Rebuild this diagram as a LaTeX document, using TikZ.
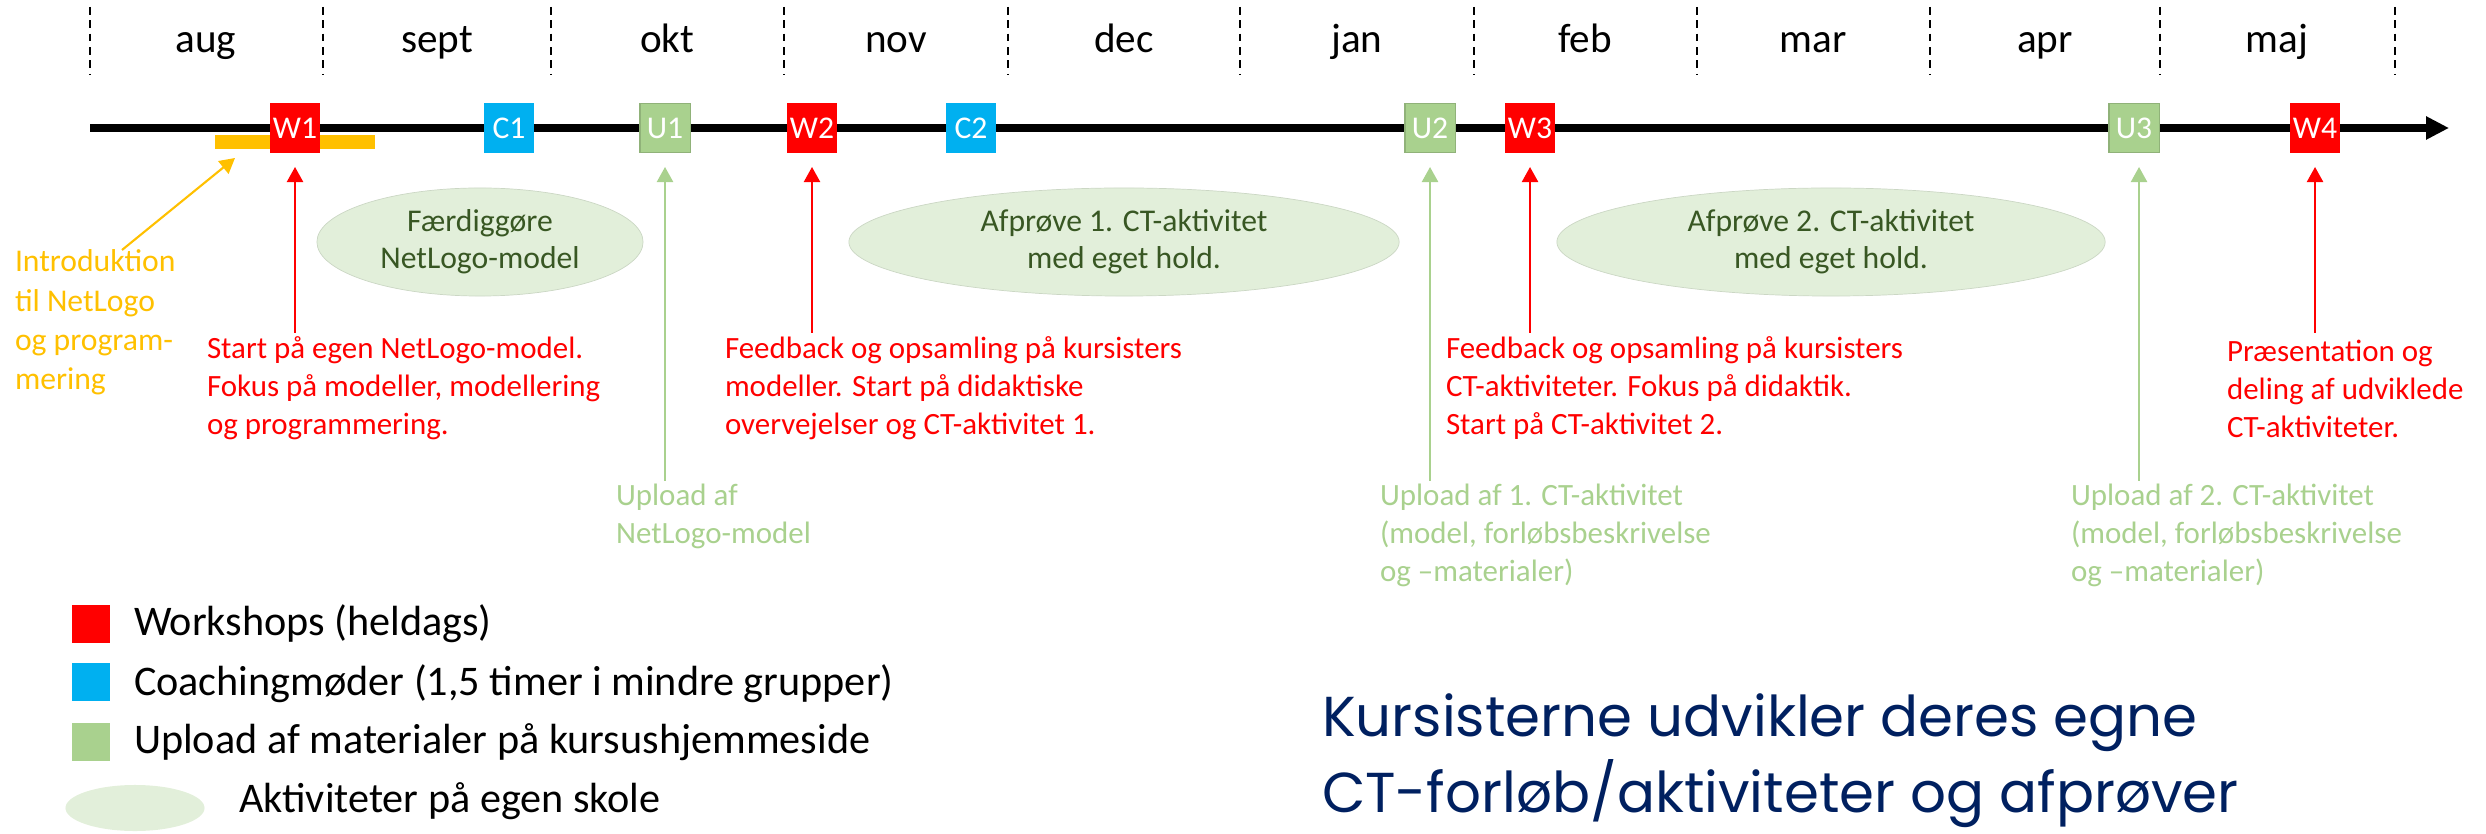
\documentclass[tikz,border=0pt]{standalone}
\usepackage{fontspec}
\setmainfont{Carlito}
\newfontfamily\bigfont{Poppins}
\usetikzlibrary{arrows.meta,shapes.geometric}
\definecolor{wred}{HTML}{FF0000}
\definecolor{cblue}{HTML}{00B0F0}
\definecolor{ugreen}{HTML}{A9D18E}
\definecolor{ellfill}{HTML}{E2EFDA}
\definecolor{dgreen}{HTML}{385723}
\definecolor{yel}{HTML}{FFC000}
\definecolor{navy}{HTML}{002060}
\begin{document}
\begin{tikzpicture}[x=0.01cm,y=-0.01cm,
  every node/.style={inner sep=0pt, outer sep=0pt},
  evbox/.style={minimum width=0.5cm, minimum height=0.49cm, text=white, font=\fontsize{9}{10}\selectfont},
  wbox/.style={evbox, fill=wred},
  cbox/.style={evbox, fill=cblue},
  ubox/.style={evbox, fill=ugreen, draw=ugreen!85!black, line width=0.3pt},
  month/.style={anchor=base, font=\fontsize{11.7}{14}\selectfont},
  divider/.style={dash pattern=on 2.2pt off 1.6pt, line width=0.4pt},
  note/.style={align=left, anchor=north west, font=\fontsize{8.8}{10.8}\selectfont},
  rednote/.style={note, text=wred},
  upnote/.style={note, text=ugreen},
  activity/.style={ellipse, fill=ellfill, draw=ellfill!90!black, line width=0.2pt, text=dgreen, align=center, font=\fontsize{9}{10.5}\selectfont},
  redarrow/.style={draw=wred, line width=0.6pt, -{Triangle[length=4.3pt,width=4.6pt]}},
  greenarrow/.style={draw=ugreen, line width=0.6pt, -{Triangle[length=4.3pt,width=4.6pt]}},
  yelarrow/.style={draw=yel, line width=0.6pt, -{Triangle[length=4.3pt,width=4.6pt]}},
  legtext/.style={anchor=base west, font=\fontsize{12}{14}\selectfont},
  legsq/.style={minimum width=0.38cm, minimum height=0.38cm},
]
\useasboundingbox (0,0) rectangle (2486,834);

% month dividers
\foreach \x in {90,323,551,784,1008,1240,1474,1697,1930,2160,2395}
  \draw[divider] (\x,7) -- (\x,75);
% month labels
\node[month] (maug) at (206,53) {aug};
\node[month] (msep) at (437,53) {sept};
\node[month] (mokt) at (667,53) {okt};
\node[month] (mnov) at (896,53) {nov};
\node[month] (mdec) at (1124,53) {dec};
\node[month] (mjan) at (1357,53) {jan};
\node[month] (mfeb) at (1585,53) {feb};
\node[month] (mmar) at (1813,53) {mar};
\node[month] (mapr) at (2045,53) {apr};
\node[month] (mmaj) at (2277,53) {maj};

% timeline
\coordinate (tlstart) at (90,128);
\coordinate (tlend) at (2449,128);
\draw[line width=2.3pt, -{Triangle[length=6.5pt,width=6.2pt]}] (tlstart) -- (tlend);

% yellow bar
\fill[yel] (215,135) rectangle (375,149);

% event boxes
\node[wbox] (W1) at (295,128) {W1};
\node[cbox] (C1) at (509,128) {C1};
\node[ubox] (U1) at (665,128) {U1};
\node[wbox] (W2) at (812,128) {W2};
\node[cbox] (C2) at (971,128) {C2};
\node[ubox] (U2) at (1430,128) {U2};
\node[wbox] (W3) at (1530,128) {W3};
\node[ubox] (U3) at (2134,128) {U3};
\node[wbox] (W4) at (2315,128) {W4};

% activity ellipses
\node[activity, minimum width=3.26cm, minimum height=1.08cm] (A1) at (480,242) {Færdiggøre\\NetLogo-model};
\node[activity, minimum width=5.5cm, minimum height=1.08cm] (A2) at (1124,242) {Afprøve 1. CT-aktivitet\\med eget hold.};
\node[activity, minimum width=5.48cm, minimum height=1.08cm] (A3) at (1831,242) {Afprøve 2. CT-aktivitet\\med eget hold.};

% yellow note
\node[note, text=yel, font=\fontsize{9}{11.1}\selectfont] (intro) at (15,250) {Introduktion\\til NetLogo\\og program-\\mering};
\coordinate (ybar) at (235,158);
\draw[yelarrow] (122,250) -- (ybar);

% red notes
\node[rednote] (n1) at (207,337) {Start på egen NetLogo-model.\\Fokus på modeller, modellering\\og programmering.};
\node[rednote] (n2) at (725,337) {Feedback og opsamling på kursisters\\modeller. Start på didaktiske\\overvejelser og CT-aktivitet 1.};
\node[rednote] (n3) at (1446,337) {Feedback og opsamling på kursisters\\CT-aktiviteter. Fokus på didaktik.\\Start på CT-aktivitet 2.};
\node[rednote] (n4) at (2227,340) {Præsentation og\\deling af udviklede\\CT-aktiviteter.};

% upload notes
\node[upnote] (u1) at (616,484) {Upload af\\NetLogo-model};
\node[upnote] (u2) at (1380,484) {Upload af 1. CT-aktivitet\\(model, forløbsbeskrivelse\\og –materialer)};
\node[upnote] (u3) at (2071,484) {Upload af 2. CT-aktivitet\\(model, forløbsbeskrivelse\\og –materialer)};

% arrows
\coordinate (a1s) at (W1.center |- 0,333);
\coordinate (a1e) at (W1.center |- 0,167);
\draw[redarrow] (a1s) -- (a1e);
\draw[redarrow] (W2.center |- 0,333) -- (W2.center |- 0,167);
\draw[redarrow] (W3.center |- 0,333) -- (W3.center |- 0,167);
\draw[redarrow] (W4.center |- 0,333) -- (W4.center |- 0,167);
\draw[greenarrow] (U1.center |- 0,481) -- (U1.center |- 0,167);
\draw[greenarrow] (U2.center |- 0,481) -- (U2.center |- 0,167);
\draw[greenarrow] (2139,481) -- (2139,167);

% legend
\node[legsq, fill=wred] (lw) at (91,624) {};
\node[legsq, fill=cblue] (lc) at (91,682) {};
\node[legsq, fill=ugreen] (lu) at (91,742) {};
\node[ellipse, fill=ellfill, minimum width=1.39cm, minimum height=0.46cm] (la) at (135,808) {};
\node[legtext] (tw) at (134,635) {Workshops (heldags)};
\node[legtext] (tc) at (134,695) {Coachingmøder (1,5 timer i mindre grupper)};
\node[legtext] (tu) at (134,753) {Upload af materialer på kursushjemmeside};
\node[legtext] (ta) at (239,812) {Aktiviteter på egen skole};

% big statement
\node[anchor=north west, align=left, text=navy, font=\bigfont\fontsize{16}{21.6}\selectfont] (big) at (1322,694) {Kursisterne udvikler deres egne\\CT-forløb/aktiviteter og afprøver};
\end{tikzpicture}
\end{document}
